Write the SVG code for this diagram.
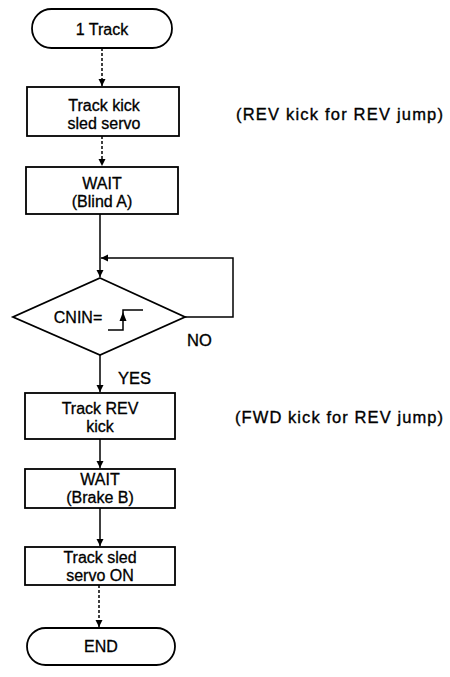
<svg xmlns="http://www.w3.org/2000/svg" width="450" height="677" viewBox="0 0 450 677">
<style>
.s{fill:#fff;stroke:#000;stroke-width:1.8}
.t{font-family:"Liberation Sans",Arial,sans-serif;font-size:16px;fill:#000;stroke:#000;stroke-width:0.3;text-anchor:middle}
.a{font-family:"Liberation Sans",Arial,sans-serif;font-size:16.5px;fill:#000;stroke:#000;stroke-width:0.35}
.l{fill:none;stroke:#000;stroke-width:1.5}
.d{fill:none;stroke:#000;stroke-width:1.5;stroke-dasharray:3 2}
</style>
<defs>
<marker id="ah" markerWidth="8" markerHeight="8" refX="7" refY="4" orient="auto" markerUnits="userSpaceOnUse">
<path d="M0,0.5 L7,4 L0,7.5 Z" fill="#000"/>
</marker>
</defs>
<rect width="450" height="677" fill="#fff"/>
<g id="connectors">
<line class="d" x1="102" y1="48" x2="102" y2="86" marker-end="url(#ah)"/>
<line class="d" x1="102" y1="136" x2="102" y2="166" marker-end="url(#ah)"/>
<line class="l" x1="100" y1="214" x2="100" y2="277" marker-end="url(#ah)"/>
<polyline class="l" points="185,317 233,317 233,258 101,258" marker-end="url(#ah)"/>
<line class="l" x1="100" y1="355" x2="100" y2="392" marker-end="url(#ah)"/>
<line class="l" x1="100" y1="439" x2="100" y2="468" marker-end="url(#ah)"/>
<line class="l" x1="100" y1="508" x2="100" y2="546" marker-end="url(#ah)"/>
<line class="d" x1="99" y1="585" x2="99" y2="627" marker-end="url(#ah)"/>
</g>
<g id="start">
<rect class="s" x="32" y="9" width="140" height="39" rx="19.5"/>
<text class="t" x="102" y="35">1 Track</text>
</g>
<g id="kick">
<rect class="s" x="27" y="87" width="152" height="49"/>
<text class="t" x="104" y="111">Track kick</text>
<text class="t" x="104" y="129">sled servo</text>
</g>
<g id="wait-a">
<rect class="s" x="26" y="167" width="152" height="47"/>
<text class="t" x="102" y="189">WAIT</text>
<text class="t" x="102" y="207">(Blind A)</text>
</g>
<g id="decision">
<polygon class="s" points="100,278 185,317 100,355 13,317"/>
<text class="t" x="78" y="323">CNIN=</text>
<polyline class="l" points="108,330 123,330 123,310 143,310"/>
<path d="M123,312 L119.5,321 L126.5,321 Z" fill="#000"/>
<text class="a" x="187" y="346">NO</text>
<text class="a" x="118" y="384">YES</text>
</g>
<g id="rev-kick">
<rect class="s" x="25" y="393" width="150" height="46"/>
<text class="t" x="100" y="414">Track REV</text>
<text class="t" x="100" y="432">kick</text>
</g>
<g id="wait-b">
<rect class="s" x="25" y="469" width="150" height="39"/>
<text class="t" x="100" y="485">WAIT</text>
<text class="t" x="100" y="503">(Brake B)</text>
</g>
<g id="servo-on">
<rect class="s" x="25" y="547" width="150" height="38"/>
<text class="t" x="100" y="563">Track sled</text>
<text class="t" x="100" y="581">servo ON</text>
</g>
<g id="end">
<rect class="s" x="27" y="628" width="148" height="37" rx="18.5"/>
<text class="t" x="101" y="652">END</text>
</g>
<g id="notes">
<text class="a" x="236" y="120" textLength="207" lengthAdjust="spacing">(REV kick for REV jump)</text>
<text class="a" x="235" y="423" textLength="208" lengthAdjust="spacing">(FWD kick for REV jump)</text>
</g>
</svg>
